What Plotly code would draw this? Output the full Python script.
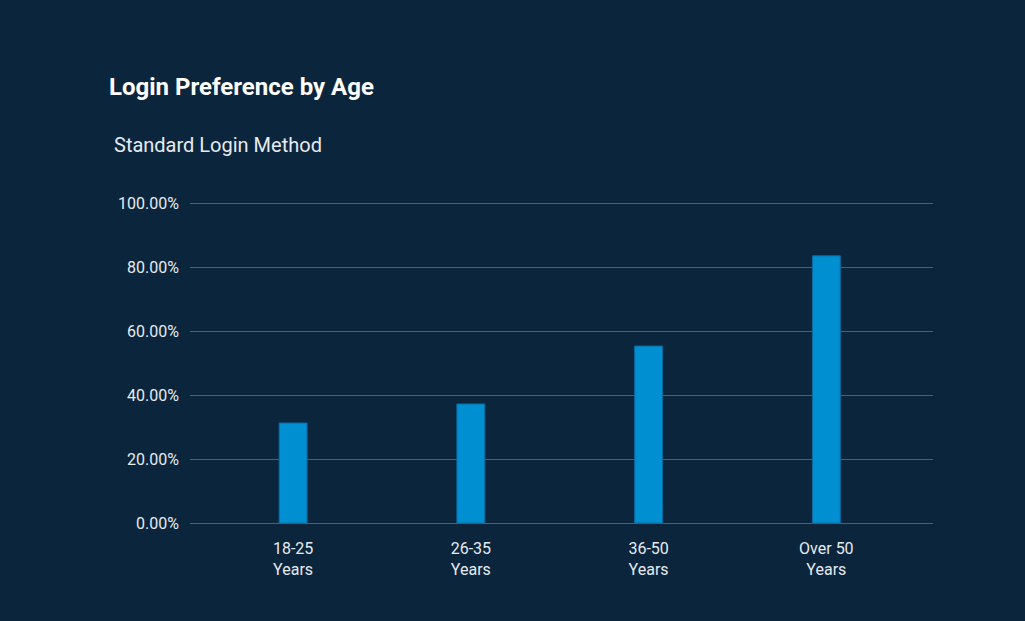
import plotly.graph_objects as go

categories = ["18-25<br>Years", "26-35<br>Years", "36-50<br>Years", "Over 50<br>Years"]
values = [0.3125, 0.372, 0.553, 0.835]
tick_vals = [0, 0.2, 0.4, 0.6, 0.8, 1.0]
tick_text = ["0.00%", "20.00%", "40.00%", "60.00%", "80.00%", "100.00%"]

BG = "#0b253d"
FONT = "Roboto"

fig = go.Figure()
fig.add_trace(go.Bar(
    x=list(range(len(categories))), y=values,
    width=0.157,
    marker=dict(color="#008fd0", line=dict(color="#0a6aa0", width=1)),
    hoverinfo="skip",
))

PT, PB = 201, 96
fig.update_layout(
    width=1025, height=621,
    paper_bgcolor=BG, plot_bgcolor=BG,
    margin=dict(l=190, r=92, t=PT, b=PB),
    showlegend=False,
    font=dict(family=FONT, color="#e6ebf0", size=16),
    xaxis=dict(
        tickmode="array", tickvals=list(range(len(categories))), ticktext=categories,
        range=[-0.58, 3.6], showgrid=False, zeroline=False, showline=False,
        ticks="", ticklabelstandoff=12, tickfont=dict(size=16, color="#e6ebf0", family=FONT),
        fixedrange=True,
    ),
    yaxis=dict(
        tickmode="array", tickvals=tick_vals, ticktext=tick_text,
        range=[-0.00625, 1.00625], showgrid=True, gridcolor="#4a6073", gridwidth=1,
        zeroline=False, showline=False, ticks="", ticklabelstandoff=10,
        tickfont=dict(size=16, color="#e6ebf0", family=FONT),
        fixedrange=True,
    ),
    annotations=[
        dict(text="<b>Login Preference by Age</b>", xref="paper", yref="paper",
             x=(107 - 190) / 743, y=(621 - PB - 87) / (621 - PT - PB), xanchor="left", yanchor="middle",
             showarrow=False, font=dict(size=24, color="#ffffff", family=FONT)),
        dict(text="Standard Login Method", xref="paper", yref="paper",
             x=(112 - 190) / 743, y=(621 - PB - 145) / (621 - PT - PB), xanchor="left", yanchor="middle",
             showarrow=False, font=dict(size=20, color="#e6ebf0", family=FONT)),
    ],
)

fig.write_html("out.html")
